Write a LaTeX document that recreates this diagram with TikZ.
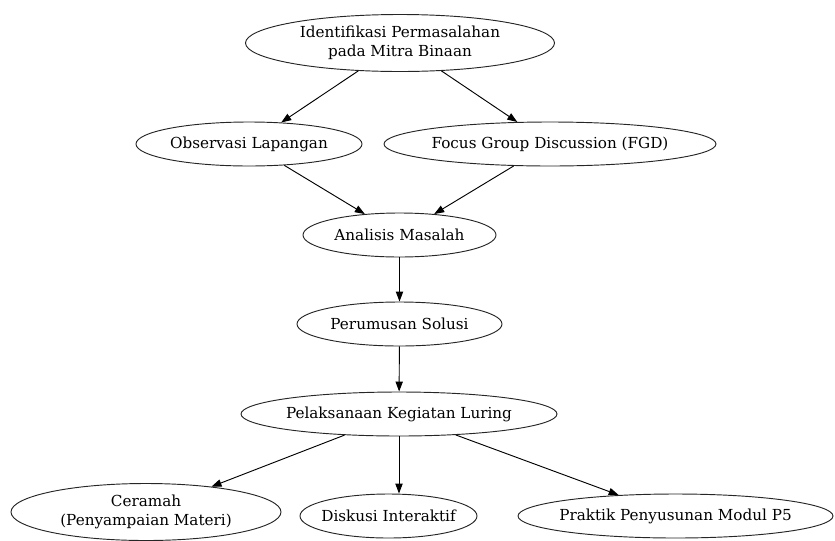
\documentclass[tikz,border=0pt]{standalone}
\usepackage{fontspec}
\setmainfont{DejaVu Serif}
\usetikzlibrary{shapes.geometric,arrows.meta}

\tikzset{
    stage/.style={ellipse, draw=black!85, line width=0.7pt, inner xsep=-10pt, inner ysep=0pt, align=center,
        font=\fontsize{11.4}{14.6}\selectfont},
    flow/.style={-{Triangle[length=7.5pt,width=5.5pt]}, line width=0.7pt, draw=black}
}

\begin{document}
\begin{tikzpicture}[x=0.75pt,y=-0.75pt]
            \useasboundingbox (0,0) rectangle (835,540);
            \clip (0,0) rectangle (835,540);

            \node[stage, minimum width=231.75pt, minimum height=42.75pt] at (400,43) (ident) {Identifikasi Permasalahan\\pada Mitra Binaan};

            \node[stage, minimum width=169.5pt, minimum height=33pt] at (249,144) (obs) {Observasi Lapangan};
            \node[stage, minimum width=249pt, minimum height=33pt] at (550,144) (fgd) {Focus Group Discussion (FGD)};

            \node[stage, minimum width=144.75pt, minimum height=33pt] at (399.5,235) (analisis) {Analisis Masalah};
            \node[stage, minimum width=153.75pt, minimum height=33pt] at (399.5,324) (solusi) {Perumusan Solusi};
            \node[stage, minimum width=237pt, minimum height=33pt] at (399,414) (luring) {Pelaksanaan Kegiatan Luring};

            \node[stage, minimum width=202.5pt, minimum height=42.75pt] at (146,512) (ceramah) {Ceramah\\(Penyampaian Materi)};
            \node[stage, minimum width=132.75pt, minimum height=33pt] at (388.5,516) (diskusi) {Diskusi Interaktif};
            \node[stage, minimum width=236.25pt, minimum height=33pt] at (675.5,516) (praktik) {Praktik Penyusunan Modul P5};

            % alur kegiatan
            \draw[flow] (ident) -- (obs);
            \draw[flow] (ident) -- (fgd);
            \draw[flow] (obs) -- (analisis);
            \draw[flow] (fgd) -- (analisis);
            \draw[flow] (analisis) -- (solusi);
            \draw[flow] (solusi) -- (luring);
            \draw[flow] (luring) -- (ceramah);
            \draw[flow] (luring.south) -- (luring.south |- diskusi.north);
            \draw[flow] (luring) -- (praktik);
        \end{tikzpicture}
\end{document}
